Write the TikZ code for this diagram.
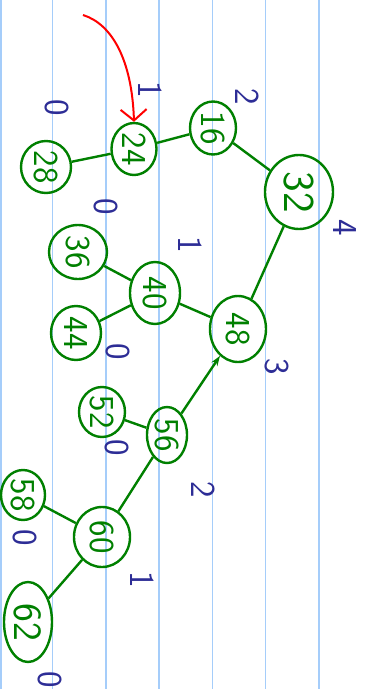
\documentclass[tikz,border=0pt]{standalone}
\usetikzlibrary{shapes.geometric,arrows.meta}
\definecolor{paper}{RGB}{165,205,250}
\definecolor{ink}{RGB}{0,128,0}
\definecolor{hblue}{RGB}{45,45,150}
\tikzset{
  nd/.style={ellipse, draw=ink, line width=2.4pt, inner sep=0pt, text=ink, font=\sffamily\fontsize{35}{35}\selectfont},
  edge/.style={draw=ink, line width=2.4pt},
  lbl/.style={text=hblue, font=\sffamily\fontsize{35}{35}\selectfont, inner sep=0pt},
  rule/.style={draw=paper, line width=1.5pt}
}
\newcommand{\rt}[1]{\rotatebox{-90}{#1}}
\begin{document}
\begin{tikzpicture}[x=1pt,y=-1pt]
\useasboundingbox (0,0) rectangle (373,689);
\fill[white] (0,0) rectangle (373,689);
% ruled paper lines
\foreach \x in {0.8,52.5,106,159,212.3,265.7,319}{
  \draw[rule] (\x,0) -- (\x,689);
}
% nodes
\node[nd, minimum width=50pt, minimum height=52pt] (n28) at (46,167) {\rt{28}};
\node[nd, minimum width=45pt, minimum height=52pt] (n24) at (134,149) {\rt{24}};
\node[nd, minimum width=46pt, minimum height=53pt] (n16) at (213,128) {\rt{16}};
\node[nd, minimum width=68pt, minimum height=74pt, font=\sffamily\fontsize{44}{44}\selectfont] (n32) at (299,192) {\rt{32}};
\node[nd, minimum width=58pt, minimum height=54pt] (n36) at (78,252) {\rt{36}};
\node[nd, minimum width=50pt, minimum height=62pt] (n40) at (155,293) {\rt{40}};
\node[nd, minimum width=50pt, minimum height=54pt] (n44) at (76,333) {\rt{44}};
\node[nd, minimum width=56pt, minimum height=66pt] (n48) at (238,329) {\rt{48}};
\node[nd, minimum width=46pt, minimum height=50pt] (n52) at (102,412) {\rt{52}};
\node[nd, minimum width=40pt, minimum height=56pt] (n56) at (167,435) {\rt{56}};
\node[nd, minimum width=44pt, minimum height=50pt] (n58) at (23,495) {\rt{58}};
\node[nd, minimum width=56pt, minimum height=60pt] (n60) at (102,537) {\rt{60}};
\node[nd, minimum width=48pt, minimum height=80pt, font=\sffamily\fontsize{40}{40}\selectfont] (n62) at (28,622) {\rt{62}};
% edges
\draw[edge] (n28) -- (n24);
\draw[edge] (n24) -- (n16);
\draw[edge] (n16) -- (n32);
\draw[edge] (n32) -- (n48);
\draw[edge] (n36) -- (n40);
\draw[edge] (n40) -- (n44);
\draw[edge] (n40) -- (n48);
\draw[edge, -{Stealth[length=10pt,width=7pt]}] (n56) -- (n48);
\draw[edge] (n52) -- (n56);
\draw[edge] (n56) -- (n60);
\draw[edge] (n58) -- (n60);
\draw[edge] (n60) -- (n62);
% red pointer
\coordinate (rs) at (83,15);
\draw[red, line width=2pt, -{Straight Barb[length=11pt,width=26pt]}] (rs) .. controls (112,24) and (132,60) .. (n24.north);
% height labels
\node[lbl] (h28) at (57,108) {\rt{0}};
\node[lbl] (h24) at (150,90) {\rt{1}};
\node[lbl] (h16) at (247,97) {\rt{2}};
\node[lbl] (h36) at (106,207) {\rt{0}};
\node[lbl] (h32) at (345,228) {\rt{4}};
\node[lbl] (h40) at (190,245) {\rt{1}};
\node[lbl] (h44) at (118,352) {\rt{0}};
\node[lbl] (h48) at (277,367) {\rt{3}};
\node[lbl] (h52) at (117,448) {\rt{0}};
\node[lbl] (h56) at (203,490) {\rt{2}};
\node[lbl] (h58) at (25,538) {\rt{0}};
\node[lbl] (h60) at (142,580) {\rt{1}};
\node[lbl] (h62) at (50,680) {\rt{0}};
\end{tikzpicture}
\end{document}
